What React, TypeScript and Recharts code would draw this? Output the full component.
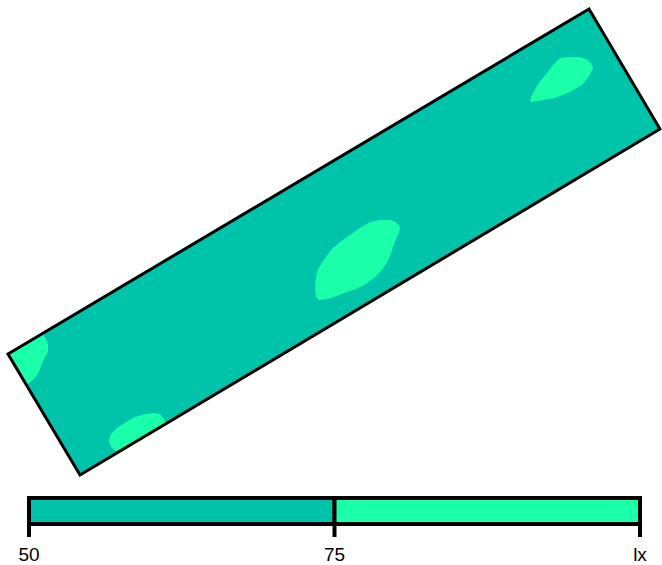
import { ComposedChart, Scatter, XAxis, YAxis, BarChart, Bar } from "recharts"

// plan coordinates (x right, y down)
const roomOutline = [
  { x: 8, y: 354 },
  { x: 589, y: 9 },
  { x: 660, y: 129 },
  { x: 80, y: 475 },
]

const blobCornerLeft = [
  { x: 8, y: 354 },
  { x: 43, y: 334 },
  { x: 46, y: 339 },
  { x: 48, y: 345 },
  { x: 48, y: 352 },
  { x: 44, y: 359 },
  { x: 41, y: 366 },
  { x: 39, y: 372 },
  { x: 35, y: 378 },
  { x: 28, y: 384 },
  { x: 26, y: 384 },
]

const blobBottomLeft = [
  { x: 116, y: 451 },
  { x: 111, y: 447 },
  { x: 109, y: 440 },
  { x: 111, y: 434 },
  { x: 117, y: 428 },
  { x: 126, y: 422 },
  { x: 135, y: 417 },
  { x: 146, y: 414 },
  { x: 155, y: 413 },
  { x: 160, y: 414 },
  { x: 164, y: 419 },
  { x: 166, y: 424 },
]

const blobCentre = [
  { x: 370, y: 222 },
  { x: 380, y: 220 },
  { x: 390, y: 220 },
  { x: 396, y: 222 },
  { x: 400, y: 227 },
  { x: 399, y: 233 },
  { x: 396, y: 239 },
  { x: 393, y: 247 },
  { x: 390, y: 256 },
  { x: 386, y: 264 },
  { x: 381, y: 271 },
  { x: 374, y: 278 },
  { x: 366, y: 284 },
  { x: 356, y: 289 },
  { x: 347, y: 292 },
  { x: 337, y: 296 },
  { x: 327, y: 299 },
  { x: 319, y: 300 },
  { x: 316, y: 297 },
  { x: 315, y: 288 },
  { x: 316, y: 276 },
  { x: 318, y: 269 },
  { x: 323, y: 261 },
  { x: 331, y: 250 },
  { x: 340, y: 242 },
  { x: 350, y: 235 },
  { x: 360, y: 228 },
]

const blobTopRight = [
  { x: 560, y: 58 },
  { x: 570, y: 57 },
  { x: 580, y: 57 },
  { x: 586, y: 59 },
  { x: 591, y: 63 },
  { x: 593, y: 68 },
  { x: 590, y: 75 },
  { x: 582, y: 85 },
  { x: 570, y: 92 },
  { x: 555, y: 98 },
  { x: 538, y: 101 },
  { x: 530, y: 102 },
  { x: 531, y: 97 },
  { x: 538, y: 84 },
  { x: 547, y: 73 },
  { x: 553, y: 65 },
]

const blobs = [blobCornerLeft, blobBottomLeft, blobCentre, blobTopRight]

// colour scale
const levels = [50, 75, 100]
const levelLabels = ["50", "75", "lx"]
const bandColors = ["#00c4aa", "#1affaa"]
const scaleRow = [{ name: "lx", low: levels[1] - levels[0], high: levels[2] - levels[1] }]
const scaleTicks = levels.map((l) => l - levels[0])

const polygon = (fill: string, stroke: string, strokeWidth: number) => (p: any) => (
  <polygon
    points={(p.points || []).map((pt: any) => `${pt.x},${pt.y}`).join(" ")}
    fill={fill}
    stroke={stroke}
    strokeWidth={strokeWidth}
    strokeLinejoin="miter"
  />
)

const noDot = () => <g />

export default function App() {
  return (
    <div style={{ position: "absolute", left: 0, top: 0, width: 662, height: 565, background: "#fff" }}>
      <ComposedChart width={662} height={485} margin={{ top: 0, right: 0, bottom: 0, left: 0 }}>
        <XAxis type="number" dataKey="x" domain={[0, 662]} hide />
        <YAxis type="number" dataKey="y" domain={[0, 485]} reversed hide />
        <Scatter data={roomOutline} line={polygon(bandColors[0], "none", 0)} shape={noDot} isAnimationActive={false} />
        {blobs.map((b, i) => (
          <Scatter key={i} data={b} line={polygon(bandColors[1], "none", 0)} shape={noDot} isAnimationActive={false} />
        ))}
        <Scatter data={roomOutline} line={polygon("none", "#000", 3)} shape={noDot} isAnimationActive={false} />
      </ComposedChart>
      <div style={{ position: "absolute", left: 0, top: 485 }}>
        <BarChart
          width={662}
          height={80}
          layout="vertical"
          data={scaleRow}
          barCategoryGap={0}
          margin={{ top: 13, right: 22, bottom: 0, left: 29 }}
        >
          <YAxis type="category" dataKey="name" hide />
          <XAxis
            type="number"
            domain={[0, scaleTicks[2]]}
            ticks={scaleTicks}
            tickFormatter={(v: number) => levelLabels[scaleTicks.indexOf(v)]}
            axisLine={false}
            tickLine={{ stroke: "#000", strokeWidth: 4 }}
            tickSize={13}
            tickMargin={11}
            height={41}
            interval={0}
            tick={{ fill: "#000", fontSize: 19, fontFamily: "Liberation Sans, Arial, sans-serif" }}
          />
          <Bar dataKey="low" stackId="s" fill={bandColors[0]} stroke="#000" strokeWidth={4} isAnimationActive={false} />
          <Bar dataKey="high" stackId="s" fill={bandColors[1]} stroke="#000" strokeWidth={4} isAnimationActive={false} />
        </BarChart>
      </div>
    </div>
  )
}
